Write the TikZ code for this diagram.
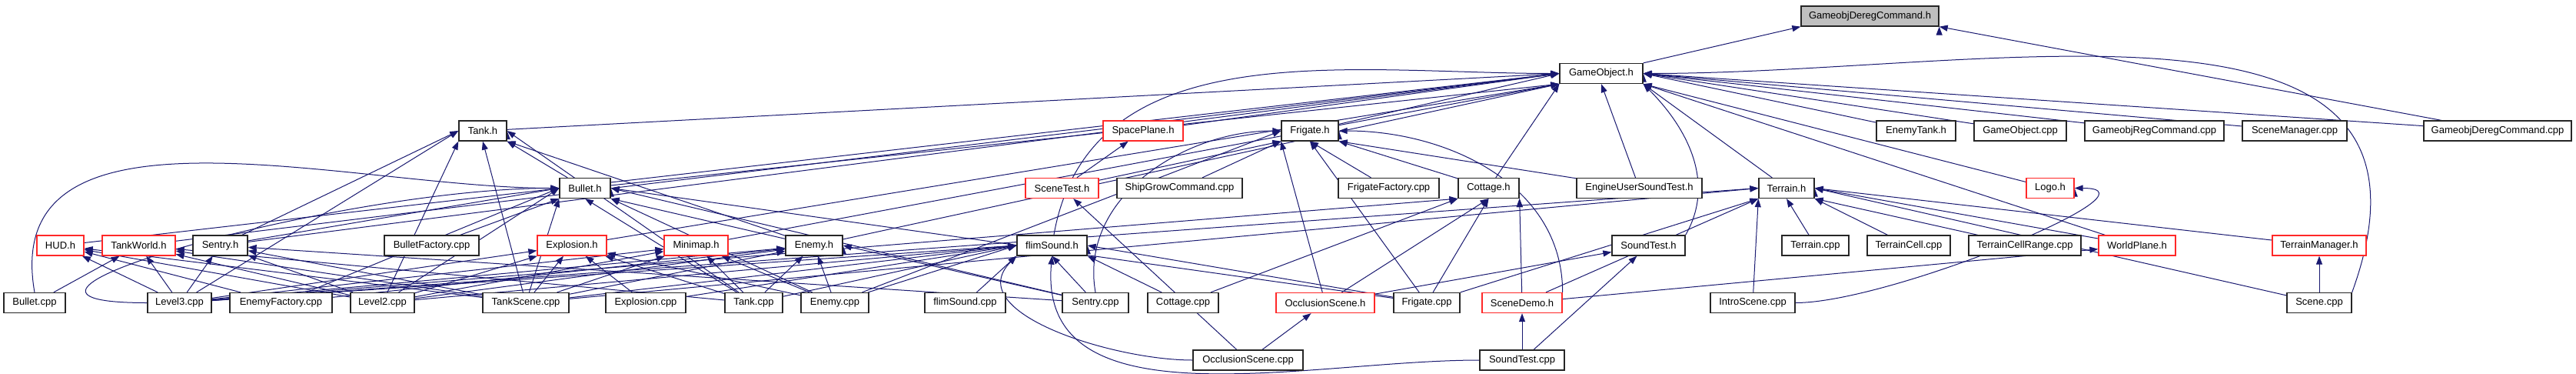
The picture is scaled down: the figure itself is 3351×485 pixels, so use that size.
\documentclass[tikz,border=0pt]{standalone}
\usepackage{fontspec}
\setmainfont{Liberation Sans}
\usetikzlibrary{arrows.meta,backgrounds}
\definecolor{edgeBlue}{RGB}{25,25,112}
\definecolor{rootGray}{RGB}{191,191,191}
\definecolor{warnRed}{RGB}{255,40,40}

\begin{document}
\begin{tikzpicture}[x=1pt,y=-1pt,
    fb/.style={draw=black!85,fill=white,line width=1.3pt,minimum height=26pt,
               inner sep=0pt,font=\fontsize{13}{15}\selectfont},
    fbred/.style={fb,draw=warnRed},
    inc/.style={edgeBlue,line width=1pt,{Triangle[length=11pt,width=8pt]}-}]
  \useasboundingbox (0,0) rectangle (3351,485);
  % row 0 and 1
  \node[fb,fill=rootGray,minimum width=179pt](deregh) at (2432.5,21){GameobjDeregCommand.h};
  \node[fb,minimum width=108pt](gobjh) at (2083,95.5){GameObject.h};
  % row 2
  \node[fb,minimum width=62pt](tankh) at (628,170){Tank.h};
  \node[fbred,minimum width=104pt](spaceplaneh) at (1487,170){SpacePlane.h};
  \node[fb,minimum width=74pt](frigateh) at (1704,170){Frigate.h};
  \node[fb,minimum width=103pt](enemytankh) at (2492.5,170){EnemyTank.h};
  \node[fb,minimum width=120pt](gobjcpp) at (2628,170){GameObject.cpp};
  \node[fb,minimum width=181pt](regcpp) at (2802.5,170){GameobjRegCommand.cpp};
  \node[fb,minimum width=136pt](scenemgrcpp) at (2985,170){SceneManager.cpp};
  \node[fb,minimum width=192pt](deregcpp) at (3249,170){GameobjDeregCommand.cpp};
  % row 3
  \node[fb,minimum width=66pt](bulleth) at (761,244.5){Bullet.h};
  \node[fbred,minimum width=95pt](scenetesth) at (1381.5,244.5){SceneTest.h};
  \node[fb,minimum width=163pt](shipgrowcpp) at (1534.5,244.5){ShipGrowCommand.cpp};
  \node[fb,minimum width=131pt](frigfactcpp) at (1806.5,244.5){FrigateFactory.cpp};
  \node[fb,minimum width=79pt](cottageh) at (1936.5,244.5){Cottage.h};
  \node[fb,minimum width=163pt](eusth) at (2132.5,244.5){EngineUserSoundTest.h};
  \node[fb,minimum width=72pt](terrainh) at (2324,244.5){Terrain.h};
  \node[fbred,minimum width=62pt](logoh) at (2667,244.5){Logo.h};
  % row 4
  \node[fbred,minimum width=61pt](hudh) at (78.5,319){HUD.h};
  \node[fbred,minimum width=95pt](tankworldh) at (180.5,319){TankWorld.h};
  \node[fb,minimum width=71pt](sentryh) at (286.5,319){Sentry.h};
  \node[fb,minimum width=123pt](bulletfactcpp) at (561.5,319){BulletFactory.cpp};
  \node[fbred,minimum width=90pt](explosionh) at (744,319){Explosion.h};
  \node[fbred,minimum width=83pt](minimaph) at (905.5,319){Minimap.h};
  \node[fb,minimum width=74pt](enemyh) at (1059,319){Enemy.h};
  \node[fb,minimum width=91pt](flimsoundh) at (1368.5,319){flimSound.h};
  \node[fb,minimum width=95pt](soundtesth) at (2144.5,319){SoundTest.h};
  \node[fb,minimum width=87pt](terraincpp) at (2361.5,319){Terrain.cpp};
  \node[fb,minimum width=108pt](terraincellcpp) at (2483,319){TerrainCell.cpp};
  \node[fb,minimum width=146pt](tcrangecpp) at (2634,319){TerrainCellRange.cpp};
  \node[fbred,minimum width=100pt](worldplaneh) at (2780,319){WorldPlane.h};
  \node[fbred,minimum width=122pt](terrainmgrh) at (3017,319){TerrainManager.h};
  % row 5
  \node[fb,minimum width=80pt](bulletcpp) at (45,393.5){Bullet.cpp};
  \node[fb,minimum width=83pt](level3cpp) at (233.5,393.5){Level3.cpp};
  \node[fb,minimum width=133pt](enemyfactcpp) at (365.5,393.5){EnemyFactory.cpp};
  \node[fb,minimum width=83pt](level2cpp) at (497.5,393.5){Level2.cpp};
  \node[fb,minimum width=112pt](tankscenecpp) at (684,393.5){TankScene.cpp};
  \node[fb,minimum width=104pt](explosioncpp) at (840,393.5){Explosion.cpp};
  \node[fb,minimum width=75pt](tankcpp) at (980.5,393.5){Tank.cpp};
  \node[fb,minimum width=88pt](enemycpp) at (1086,393.5){Enemy.cpp};
  \node[fb,minimum width=105pt](flimsoundcpp) at (1255.5,393.5){flimSound.cpp};
  \node[fb,minimum width=86pt](sentrycpp) at (1425,393.5){Sentry.cpp};
  \node[fb,minimum width=92pt](cottagecpp) at (1539,393.5){Cottage.cpp};
  \node[fbred,minimum width=128pt](occlh) at (1724,393.5){OcclusionScene.h};
  \node[fb,minimum width=86pt](frigatecpp) at (1856,393.5){Frigate.cpp};
  \node[fbred,minimum width=104pt](scenedemoh) at (1980,393.5){SceneDemo.h};
  \node[fb,minimum width=110pt](introcpp) at (2280,393.5){IntroScene.cpp};
  \node[fb,minimum width=84pt](scenecpp) at (3017,393.5){Scene.cpp};
  % row 6
  \node[fb,minimum width=143pt](occlcpp) at (1623.5,468){OcclusionScene.cpp};
  \node[fb,minimum width=110pt](soundtestcpp) at (1980,468){SoundTest.cpp};
  % include edges, arrow at the included file
  \begin{scope}[on background layer]
    \draw[inc] (deregh.south west) edge (gobjh.north east)
      (deregh.south east) edge (deregcpp);
    \draw[inc] (gobjh.west) edge (tankh) edge (spaceplaneh) edge (frigateh)
      edge (hudh) edge (tankworldh) edge (sentryh) edge[out=180,in=80] (flimsoundh)
      (gobjh.south west) edge (bulleth) edge (explosionh) edge (minimaph)
      edge (enemyh) edge (cottageh)
      (gobjh.south) edge (eusth)
      (gobjh.south east) edge[out=-45,in=60] (soundtesth.north east)
      edge (terrainh) edge (worldplaneh) edge (logoh)
      (gobjh.east) edge (enemytankh) edge (gobjcpp) edge (regcpp)
      edge (scenemgrcpp) edge (deregcpp)
      edge[out=0,in=70,looseness=1.2] (scenecpp.north east);
    \draw[inc] (tankh.west) edge (sentryh) edge (level3cpp)
      (tankh.south west) edge (level2cpp)
      (tankh.south) edge (tankscenecpp)
      (tankh.south east) edge (bulleth) edge (enemyh)
      (tankh.east) edge (tankcpp);
    \draw[inc] (spaceplaneh) edge (scenetesth);
    \draw[inc] (frigateh.west) edge (enemycpp) edge[out=180,in=100] (sentrycpp.north)
      (frigateh.south west) edge (scenetesth) edge (shipgrowcpp) edge (occlh)
      (frigateh.south) edge (frigfactcpp) edge (frigatecpp)
      (frigateh.south east) edge (cottageh) edge (eusth)
      (frigateh.east) edge[out=0,in=90] (scenedemoh.north east);
    \draw[inc] (bulleth.west) edge[out=180,in=100] (bulletcpp.north)
      edge[out=180,in=180,looseness=1.3] (level3cpp.west)
      edge (sentryh) edge (level2cpp) edge (enemyfactcpp)
      (bulleth.south west) edge (bulletfactcpp) edge (tankscenecpp)
      (bulleth.south) edge (tankcpp)
      (bulleth.south east) edge (enemyh) edge (enemycpp)
      (bulleth.east) edge (sentrycpp) edge (frigatecpp);
    \draw[inc] (scenetesth) edge (occlcpp);
    \draw[inc] (cottageh.south west) edge (cottagecpp) edge (level3cpp)
      (cottageh.south) edge (occlh) edge (frigatecpp)
      (cottageh.south east) edge (scenedemoh);
    \draw[inc] (terrainh.west) edge (level3cpp) edge (tankscenecpp)
      (terrainh.south west) edge (frigatecpp) edge (scenedemoh) edge (introcpp)
      (terrainh.south) edge (terraincpp)
      (terrainh.south east) edge (terraincellcpp) edge (tcrangecpp)
      (terrainh.east) edge (worldplaneh) edge (terrainmgrh) edge (scenecpp);
    \draw[inc] (logoh.east) edge[out=0,in=0,looseness=0.8] (introcpp.east);
    \draw[inc] (hudh) edge (level3cpp) edge (enemyfactcpp) edge (level2cpp)
      edge (tankscenecpp);
    \draw[inc] (tankworldh) edge (level3cpp) edge (bulletcpp) edge (level2cpp)
      edge (tankscenecpp) edge (tankcpp);
    \draw[inc] (sentryh) edge (level3cpp) edge (level2cpp) edge (tankscenecpp)
      edge (sentrycpp);
    \draw[inc] (explosionh) edge (explosioncpp) edge (tankscenecpp) edge (tankcpp)
      edge (level3cpp) edge (level2cpp) edge (enemycpp);
    \draw[inc] (minimaph) edge (tankcpp) edge (enemycpp) edge (level3cpp)
      edge (level2cpp) edge (tankscenecpp);
    \draw[inc] (enemyh) edge (enemycpp) edge (tankcpp) edge (enemyfactcpp)
      edge (level3cpp) edge (level2cpp) edge (tankscenecpp)
      (enemyh.east) edge (sentrycpp);
    \draw[inc] (flimsoundh.west) edge (level3cpp) edge (level2cpp)
      edge (tankscenecpp) edge (tankcpp) edge (enemycpp) edge (explosioncpp)
      (flimsoundh.south west) edge (flimsoundcpp)
      edge[out=225,in=180] (occlcpp.west)
      (flimsoundh.south) edge (sentrycpp)
      edge[out=265,in=180] (soundtestcpp.west)
      (flimsoundh.south east) edge (cottagecpp)
      (flimsoundh.east) edge (frigatecpp);
    \draw[inc] (occlh) edge (occlcpp);
    \draw[inc] (scenedemoh) edge (soundtestcpp);
    \draw[inc] (soundtesth) edge (soundtestcpp) edge (occlh);
    \draw[inc] (worldplaneh) edge (scenedemoh);
    \draw[inc] (terrainmgrh) edge (scenecpp);
  \end{scope}
\end{tikzpicture}
\end{document}
